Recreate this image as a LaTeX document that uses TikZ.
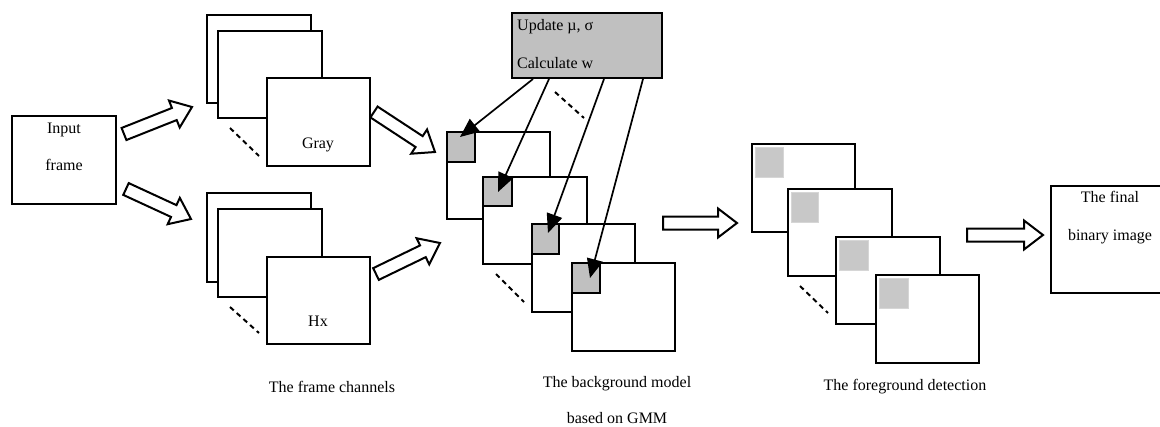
\documentclass[tikz,border=0pt]{standalone}
\usepackage{fontspec}
\setmainfont{Liberation Serif}
\usetikzlibrary{calc,fit,arrows.meta}
\definecolor{boxgray}{HTML}{C0C0C0}
\definecolor{fggray}{HTML}{C8C8C8}
\definecolor{fgedge}{HTML}{D6D6D6}
\tikzset{
 frm/.style={draw=black, fill=white, line width=2pt, inner sep=0pt},
 gsq/.style={draw=black, fill=boxgray, line width=1.8pt, inner sep=0pt},
 lsq/.style={draw=fgedge, fill=fggray, line width=1pt, inner sep=0pt},
 lbl/.style={font=\fontsize{16}{19}\selectfont, inner sep=0pt, anchor=base},
 dsh/.style={line width=2pt, dash pattern=on 5pt off 4pt},
 thinarr/.style={line width=1.7pt, -{Triangle[length=19pt,width=16pt]}},
 blk/.style={draw=black, fill=white, line width=2pt, line join=miter},
}
\newcommand\blockarrow[2]{%
 \coordinate (hb) at ($(#2)!19pt!(#1)$);
 \draw[blk] ($(#1)!6.5pt!90:(#2)$) -- ($(hb)!6.5pt!90:(#2)$) -- ($(hb)!14.5pt!90:(#2)$) -- (#2) -- ($(hb)!14.5pt!-90:(#2)$) -- ($(hb)!6.5pt!-90:(#2)$) -- ($(#1)!6.5pt!-90:(#2)$) -- cycle;}
\begin{document}
\begin{tikzpicture}[x=1pt,y=-1pt]
\useasboundingbox (0,0) rectangle (1160,426);
\clip (0,0) rectangle (1160,426);
\fill[white] (0,0) rectangle (1160,426);

% input frame
\node[frm, fit={(12,116)(116,204)}] (inp) {};
\node[lbl] (inpt1) at (64,133) {Input};
\node[lbl] (inpt2) at (64,170) {frame};

% gray stack
\node[frm, fit={(207,15)(311,103)}] (g1) {};
\node[frm, fit={(218,31)(322,118)}] (g2) {};
\node[frm, fit={(267,78)(370,166)}] (g3) {};
\node[lbl] (gt) at (318,148) {Gray};
\coordinate (gd1) at (230,128); \coordinate (gd2) at (259,156);
\draw[dsh] (gd1) -- (gd2);

% Hx stack
\node[frm, fit={(207,193)(311,282)}] (h1) {};
\node[frm, fit={(218,209)(322,297)}] (h2) {};
\node[frm, fit={(267,257)(370,344)}] (h3) {};
\node[lbl] (ht) at (318,326) {Hx};
\coordinate (hd1) at (230,307); \coordinate (hd2) at (259,333);
\draw[dsh] (hd1) -- (hd2);
\node[lbl] (chan) at (332,392) {The frame channels};

% update box
\node[frm, fill=boxgray, fit={(512,13)(662,78)}] (upd) {};
\node[lbl, anchor=base west] (updt1) at (517,30) {Update µ, σ};
\node[lbl, anchor=base west] (updt2) at (517,68) {Calculate w};

% background stack
\node[frm, fit={(447,132)(550,219)}] (b1) {};
\node[gsq, fit={(447,132)(475,162)}] (s1) {};
\node[frm, fit={(483,177)(587,264)}] (b2) {};
\node[gsq, fit={(483,177)(512,206)}] (s2) {};
\node[frm, fit={(532,224)(635,312)}] (b3) {};
\node[gsq, fit={(532,224)(559,254)}] (s3) {};
\node[frm, fit={(572,263)(675,351)}] (b4) {};
\node[gsq, fit={(572,263)(600,293)}] (s4) {};
\coordinate (ud1) at (555,92); \coordinate (ud2) at (584,118);
\draw[dsh] (ud1) -- (ud2);
\coordinate (bd1) at (496,274); \coordinate (bd2) at (524,302);
\draw[dsh] (bd1) -- (bd2);
\coordinate (a1s) at (533,79); \coordinate (a1e) at (460,137);
\coordinate (a2s) at (549,79); \coordinate (a2e) at (498,192);
\coordinate (a3s) at (604,79); \coordinate (a3e) at (548,233);
\coordinate (a4s) at (643,79); \coordinate (a4e) at (590,278);
\draw[thinarr] (a1s) -- (a1e);
\draw[thinarr] (a2s) -- (a2e);
\draw[thinarr] (a3s) -- (a3e);
\draw[thinarr] (a4s) -- (a4e);
\node[lbl] (bgl1) at (617,387) {The background model};
\node[lbl] (bgl2) at (617,423) {based on GMM};

% foreground stack
\node[frm, fit={(752,144)(855,232)}] (f1) {};
\node[lsq, fit={(755,147)(783,177)}] (q1) {};
\node[frm, fit={(788,189)(892,276)}] (f2) {};
\node[lsq, fit={(791,192)(818,222)}] (q2) {};
\node[frm, fit={(836,237)(940,324)}] (f3) {};
\node[lsq, fit={(839,240)(868,270)}] (q3) {};
\node[frm, fit={(876,275)(979,363)}] (f4) {};
\node[lsq, fit={(879,278)(908,308)}] (q4) {};
\coordinate (fd1) at (800,286); \coordinate (fd2) at (828,313);
\draw[dsh] (fd1) -- (fd2);
\node[lbl] (fgl) at (905,390) {The foreground detection};

% final
\node[frm, fit={(1051,186)(1175,293)}] (fin) {};
\node[lbl] (fint1) at (1110,202) {The final};
\node[lbl] (fint2) at (1110,240) {binary image};

% block arrows
\coordinate (ba1s) at (124,134); \coordinate (ba1e) at (192,107);
\coordinate (ba2s) at (126,189); \coordinate (ba2e) at (191,219);
\coordinate (ba3s) at (374,112); \coordinate (ba3e) at (435,152);
\coordinate (ba4s) at (376,274); \coordinate (ba4e) at (440,243);
\coordinate (ba5s) at (663,223); \coordinate (ba5e) at (737,223);
\coordinate (ba6s) at (967,235); \coordinate (ba6e) at (1043,235);
\blockarrow{ba1s}{ba1e}
\blockarrow{ba2s}{ba2e}
\blockarrow{ba3s}{ba3e}
\blockarrow{ba4s}{ba4e}
\blockarrow{ba5s}{ba5e}
\blockarrow{ba6s}{ba6e}
\end{tikzpicture}
\end{document}
